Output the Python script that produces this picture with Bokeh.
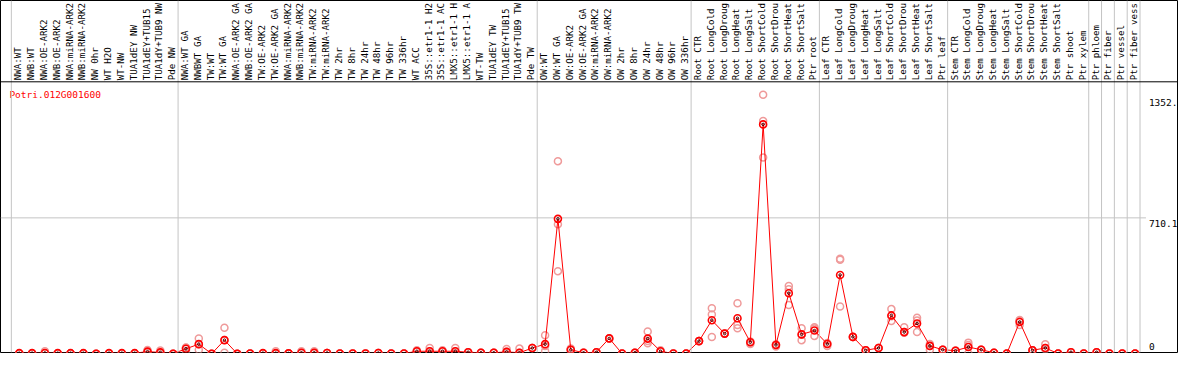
import math
from bokeh.plotting import figure
from bokeh.models import Range1d, Span, ColumnDataSource
from bokeh.core.properties import value
from bokeh.embed import file_html
from bokeh.resources import INLINE

gene = "Potri.012G001600"

# labels as displayed (the header shows at most 14 characters)
categories = [
    "NWA:WT", "NWB:WT", "NWA:OE-ARK2", "NWB:OE-ARK2", "NWA:miRNA-ARK2", "NWB:miRNA-ARK2",
    "NW 0hr", "WT H2O", "WT-NW", "TUA1dEY NW", "TUA1dEY+TUB15", "TUA1dY+TUB9 NW", "Pde NW",
    "NWA:WT GA", "NWBWT GA", "TW:WT", "TW:WT GA", "NWA:OE-ARK2 GA", "NWB:OE-ARK2 GA",
    "TW:OE-ARK2", "TW:OE-ARK2 GA", "NWA:miRNA-ARK2", "NWB:miRNA-ARK2", "TW:miRNA-ARK2",
    "TW:miRNA-ARK2", "TW 2hr", "TW 8hr", "TW 24hr", "TW 48hr", "TW 96hr", "TW 336hr",
    "WT ACC", "35S::etr1-1 H2", "35S::etr1-1 AC", "LMX5::etr1-1 H", "LMX5::etr1-1 A",
    "WT-TW", "TUA1dEY TW", "TUA1dEY+TUB15", "TUA1dY+TUB9 TW", "Pde TW",
    "OW:WT", "OW:WT GA", "OW:OE-ARK2", "OW:OE-ARK2 GA", "OW:miRNA-ARK2", "OW:miRNA-ARK2",
    "OW 2hr", "OW 8hr", "OW 24hr", "OW 48hr", "OW 96hr", "OW 336hr",
    "Root CTR", "Root LongCold", "Root LongDroug", "Root LongHeat", "Root LongSalt",
    "Root ShortCold", "Root ShortDrou", "Root ShortHeat", "Root ShortSalt", "Ptr root",
    "Leaf CTR", "Leaf LongCold", "Leaf LongDroug", "Leaf LongHeat", "Leaf LongSalt",
    "Leaf ShortCold", "Leaf ShortDrou", "Leaf ShortHeat", "Leaf ShortSalt", "Ptr leaf",
    "Stem CTR", "Stem LongCold", "Stem LongDroug", "Stem LongHeat", "Stem LongSalt",
    "Stem ShortCold", "Stem ShortDrou", "Stem ShortHeat", "Stem ShortSalt",
    "Ptr shoot", "Ptr xylem", "Ptr phloem", "Ptr fiber", "Ptr vessel", "Ptr fiber vess",
]

means = [4, 4, 5, 4, 4, 4, 1, 4, 4, 4,
         12, 8, 1, 27, 51, 1, 72, 1, 2, 4,
         4, 3, 6, 6, 5, 2, 2, 2, 5, 2,
         2, 14, 14, 14, 14, 9, 6, 6, 11, 6,
         31, 51, 705, 22, 6, 9, 81, 2, 6, 80,
         14, 2, 2, 67, 176, 106, 186, 61, 1198, 47,
         317, 102, 122, 52, 412, 89, 19, 31, 201, 114,
         159, 42, 22, 17, 36, 22, 6, 2, 167, 19,
         31, 2, 9, 2, 9, 2, 2, 2]

rep1 = [4, 4, 14, 4, 4, 4, 1, 4, 4, 4,
        20, 18, 1, 34, 81, 1, 137, 1, 2, 4,
        14, 3, 14, 14, 5, 2, 2, 2, 5, 2,
        2, 19, 31, 19, 31, 9, 6, 6, 26, 28,
        31, 98, 1006, 28, 6, 9, 81, 2, 6, 117,
        19, 2, 2, 67, 239, 106, 264, 52, 1352.6, 39,
        355, 134, 139, 42, 497, 89, 19, 31, 234, 139,
        189, 22, 22, 17, 59, 22, 6, 2, 151, 19,
        51, 2, 9, 2, 9, 2, 2, 2]

rep2 = [4, 4, 3, 4, 4, 4, 1, 4, 4, 4,
        8, 4, 1, 32, 22, 1, 6, 1, 2, 4,
        2, 3, 4, 4, 5, 2, 2, 2, 5, 2,
        2, 12, 8, 12, 8, 9, 6, 6, 6, 2,
        31, 14, 432, 20, 6, 9, 81, 2, 6, 56,
        12, 2, 2, 67, 206, 106, 151, 65, 1216, 50,
        338, 72, 94, 57, 492, 89, 19, 31, 172, 110,
        114, 52, 22, 17, 3, 22, 6, 2, 177, 19,
        24, 2, 9, 2, 9, 2, 2, 2]

rep3 = [4, 4, 5, 4, 4, 4, 1, 4, 4, 4,
        12, 8, 1, 15, 50, 1, 73, 1, 2, 4,
        4, 3, 6, 6, 5, 2, 2, 2, 5, 2,
        2, 14, 14, 14, 14, 9, 6, 6, 11, 6,
        31, 41, 677, 22, 6, 9, 81, 2, 6, 67,
        14, 2, 2, 67, 89, 106, 134, 61, 1025, 47,
        256, 100, 133, 52, 247, 89, 19, 31, 197, 114,
        174, 42, 22, 17, 46, 22, 6, 2, 173, 19,
        31, 2, 9, 2, 9, 2, 2, 2]

y_tick_values = [1352.6, 710.1, 0]
y_tick_labels = ["1352.", "710.1", "0"]
y_top = 1420.2
group_starts = [0, 13, 41, 53, 63, 73, 84, 85, 86, 87, 88]

# ---- layout (reference pixel geometry) ----
REF_W, REF_H = 1194, 370
PT0, STEP = 19.0, 13.0        # px of first point, px per category
ZERO_Y, TOP_Y, FRAME_BOTTOM = 369.5, 85.0, 368.0
W, H = 1178, 354
sx, sy = W / REF_W, H / REF_H

x_start = (0 - PT0) / STEP
x_end = (REF_W - PT0) / STEP
upp = y_top / (ZERO_Y - TOP_Y)
y_start = (ZERO_Y - FRAME_BOTTOM) * upp
y_end = ZERO_Y * upp

idx = list(range(len(categories)))

p = figure(width=W, height=H, x_range=Range1d(x_start, x_end), y_range=Range1d(y_start, y_end),
           output_backend="svg", toolbar_location=None, min_border=0, min_border_bottom=2)
p.axis.visible = False
p.grid.visible = False
p.outline_line_color = "black"
p.outline_line_width = 1
p.background_fill_color = "white"
p.border_fill_color = "white"

FONT = value("DejaVu Sans Mono")
FS = "9.5px"
HFS = "9.2px"
GRAY = "#c4c4c4"

# separators
for k in group_starts:
    p.add_layout(Span(location=k - 8.0 / STEP, dimension="height", line_color=GRAY, line_width=1))

# mid gridline
p.segment(x0=[x_start], y0=[y_tick_values[1]], x1=[(1161 - PT0) / STEP], y1=[y_tick_values[1]],
          line_color=GRAY, line_width=1)

# header / plot separator line
p.add_layout(Span(location=y_top, dimension="width", line_color="black", line_width=1))

# header labels
hsrc = ColumnDataSource(dict(x=idx, y=[y_top] * len(idx), t=categories))
p.text(x="x", y="y", text="t", source=hsrc, angle=math.pi / 2, text_align="left",
       text_baseline="middle", text_font=FONT, text_font_size=HFS, text_color="black",
       x_offset=-1.5, y_offset=-1.5)

# title
p.text(x=[x_start], y=[y_end], text=[gene], text_align="left", text_baseline="middle",
       text_font=FONT, text_font_size=FS, text_color="red", x_offset=9 * sx, y_offset=98 * sy)

# y tick labels
tsrc = ColumnDataSource(dict(x=[x_end] * 3, y=y_tick_values, t=y_tick_labels, yo=[8, 5.5, -7]))
p.text(x="x", y="y", text="t", source=tsrc, text_align="left", text_baseline="middle",
       text_font=FONT, text_font_size=FS, text_color="black", x_offset=-30 * sx, y_offset="yo")

# replicates
for rep in (rep1, rep2, rep3):
    p.scatter(idx, rep, marker="circle", size=7, fill_color=None, line_color="#ef9a9a",
              line_width=1.5)

# mean line and markers
p.line(idx, means, line_color="red", line_width=1)
p.scatter(idx, means, marker="circle", size=7, fill_color=None, line_color="red", line_width=1.6)
p.scatter(idx, means, marker="circle", size=2.5, fill_color=None, line_color="#400000",
          line_width=1)

open("out.html", "w").write(file_html(p, INLINE))
